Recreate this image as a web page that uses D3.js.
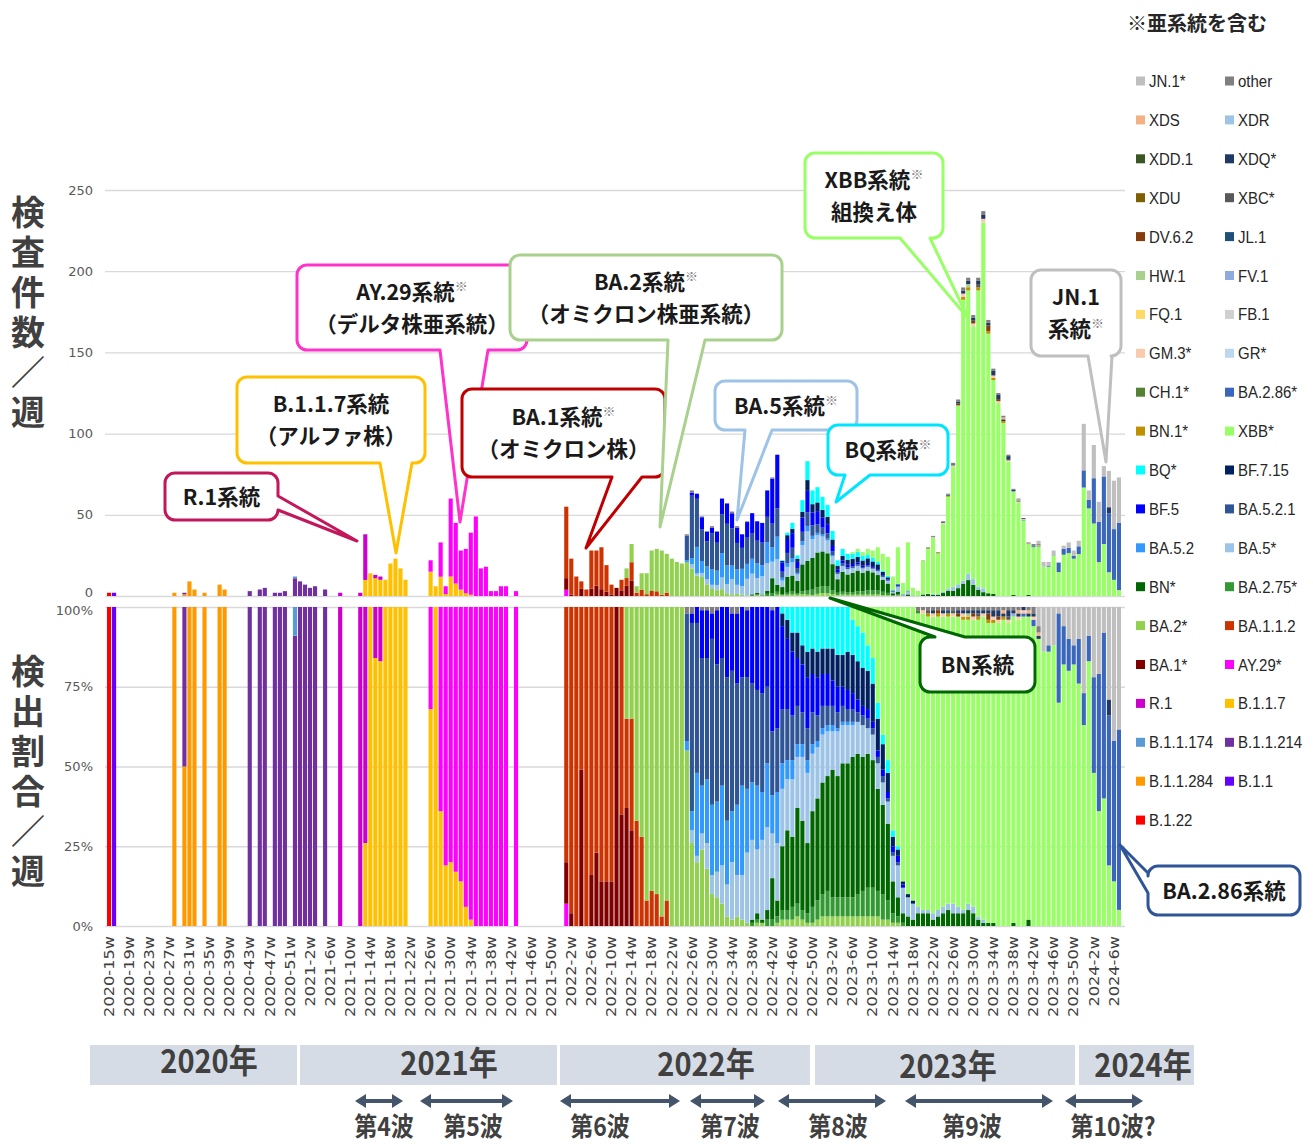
<!DOCTYPE html>
<html>
<head>
<meta charset="utf-8">
<script src="https://cdn.jsdelivr.net/npm/d3@7"></script>
<style>
  body { margin: 0; background: #fff; }
  svg text { font-family: "Noto Sans CJK JP", "Noto Sans", sans-serif; }
</style>
</head>
<body>
<svg id="chart" width="1313" height="1144"></svg>
<script>
// ---------- weeks (categories) ----------
const yearWeeks = [[2020, 15, 53], [2021, 1, 52], [2022, 1, 52], [2023, 1, 52], [2024, 1, 7]];
const tickLabels = [
  "2020-15","2020-19","2020-23","2020-27","2020-31","2020-35","2020-39","2020-43","2020-47","2020-51",
  "2021-2","2021-6","2021-10","2021-14","2021-18","2021-22","2021-26","2021-30","2021-34","2021-38","2021-42","2021-46","2021-50",
  "2022-2","2022-6","2022-10","2022-14","2022-18","2022-22","2022-26","2022-30","2022-34","2022-38","2022-42","2022-46","2022-50",
  "2023-2","2023-6","2023-10","2023-14","2023-18","2023-22","2023-26","2023-30","2023-34","2023-38","2023-42","2023-46","2023-50",
  "2024-2","2024-6"
];

// ---------- weekly number of tests (top panel) ----------
const totals2020 = [2,2,0,0,0,0,0,0,0,0,0,0,0,2,0,2,9,4,0,2,0,0,7,4,0,0,0,0,3,0,4,5,0,2,2,3,0,12,9];
const totals2021 = [7,5,6,0,4,0,0,2,0,0,0,2,38,14,13,12,10,20,23,17,10,0,0,0,0,22,6,33,6,60,45,28,29,39,49,17,18,3,3,6,6,0,3,0,0,0,0,0,0,0,0,0];
const totals2022 = [55,23,12,9,4,28,28,30,19,7,5,10,17,32,6,14,14,28,29,28,26,23,21,20,38,65,63,49,40,43,40,60,57,52,43,38,46,51,46,45,65,73,87,22,39,45,25,59,83,65,67,61];
const totals2023 = [56,40,22,29,26,27,29,27,29,28,30,26,24,12,30,8,33,5,3,22,30,37,27,46,63,82,121,190,196,173,196,237,170,140,125,111,87,66,60,48,33,32,34,21,21,28,21,31,33,28,34,106];
const totals2024 = [65,93,58,80,77,71,73];

// ---------- detection share per lineage (bottom panel), % by week, keyed by first week ----------
const pJN1    = {"2023-43": [6,14,12,12,2,6,10,12,10,27,9,22,21,8,29,42,38]};
const pOther  = {"2022-25": [2,2,0,1,1,2,1,0,0,2,2,0,1,0,0,0,0,1,0],
                 "2023-19": [1,1,1,1,1,1,1,1,1,1,1,1,1,1,1,1,1,1,1,1,1,0,1,2,2]};
const pXDS    = {"2023-36": [1,0,0,1,0,1,0,1]};
const pXDR    = {};
const pXDD1   = {};
const pXDQ    = {"2023-22": [1,0,1,0,0,1,1,1,1,1,1,1,2,2,1,2,1,1,1,1,1,1], "2024-5": [5]};
const pXDU    = {};
const pXBC    = {"2023-21": [1,0,0,0,0,1,0,0,0,0,1,0,0,0,0,0,1]};
const pDV62   = {"2023-23": [1,0,0,0,1,0,0,1,0,0,2,0,1]};
const pJL1    = {"2023-25": [1]};
const pHW1    = {"2023-29": [1]};
const pFV1    = {"2023-38": [1]};
const pFQ1    = {};
const pFB1    = {};
const pGM3    = {"2023-20": [1,0,1,0,1,0,1,0,1,0,1,0,1,0,1,1,0,1,0,1,1,0,1]};
const pGR     = {};
const pCH1    = {"2023-19": [1]};
const pBA286  = {"2023-40": [1,0,2,0,0,2,0,28,12,10,6,14,10,8,30,43,52,47,44,56]};
const pBN1    = {"2023-21": [1,0,1,0,1,0,0,1,1,0,1,0,1,1,0,1]};
const pXBB    = {"2023-6": [4,6,8,12,16,30,40,48,70,75,86,90,92,
                 92,93,92,93,92,91,90,90,91,91,89,90,93,95,94,94,95,96,95,96,96,97,95,94,90,86,86,88,70,82,80,82,76,63,83,48,36,40,19,14,5]};
const pBQ     = {"2022-44": [2,4,8,8,12,14,13,14,13,13,13, 15,15,14,11,11,11,8,8,5,3,4,2,1]};
const pBF715  = {"2022-44": [4,6,6,8,6,8,8,8,8,8,10, 10,10,12,12,12,12,12,12,10,8,6,3,2,1,1,1]};
const pBF5    = {"2022-26": [3,5,15,15,8,17,16,22,18,22,22,21,24,26,27,25,38,38, 26,22,20,15,15,16,12,12,10,10,8, 8,6,6,5,4,3,3,2,2,2,2,2,2,1]};
const pBA521  = {"2022-25": [40,59,47,40,38,52,43,40,45,44,38,34,35,31,30,31,24,20,20, 17,16,14,12,10,10,10,8,7,6,6, 5,5,4,4,3,3,3,2,2,2,1,1,1]};
const pBA52   = {"2022-25": [3,6,26,15,20,22,22,25,20,16,22,28,20,18,20,15,20,12,16, 8,6,6,4,4,4,3,2,2,2,2, 1,1,1,1]};
const pBA5    = {"2022-26": [4,2,5,8,6,8,12,10,18,13,14,22,25,20,25,26,14,18, 18,16,18,16,20,22,18,16,15,14,12,
                 14,12,12,10,10,10,8,8,8,7,7,8,10,8,6,5, 2,1,1,2,2,2,2,3,2,1,2,2,1,1]};
const pBN     = {"2022-38": [1,2,1,3,13,5, 20,25,22,30,28,22,30,32,35,36,40, 38,42,42,44,44,42,42,40,32,28,24,10,6,3,3,2,
                 4,4,4,2,3,4,5,4,4,4,5,4,2,1,1,1,0,0,0,1,0,0,2]};
const pBA275  = {"2022-38": [1,1,0,2,2,2, 3,3,4,4,3,3,5,6,7,8,6, 6,6,6,6,7,8,9,9,8,8,6,3,2,1]};
const pBA2    = {"2022-13": [35,35,67,72,92,89,90,97,92,100,100,100, 55,26,20,24,18,10,9,7,3,2,3,2,1,0,1,1,0,0,1,
                 2,2,2,3,2,1,1,2,3,3,3, 3,3,3,3,3,3,3,3,3,2,2,1,1,0,0,0]};
const pBA112  = {"2022-1": [80,96,100,51,100,84,77,86,86,86,0,65,28,35,33,28,8,11,10,3,8]};
const pBA1    = {"2022-1": [13,4,0,49,0,16,23,14,14,14,100,35,37,30]};
const pAY29   = {"2021-26": [32,0,64,81,80,83,86,94,98,100,100,100,100,100,100,100,0,100], "2022-1": [7]};
const pR1     = {"2021-8": [100,0,0,0,100,74,0,16,17]};
const pB117   = {"2021-13": [26,100,84,83,100,100,100,100,100], "2021-26": [68,100,36,19,20,17,14,6,2]};
const pB11174 = {"2020-52": [9]};
const pB11214 = {"2020-30": [50], "2020-43": [100,0,100,100,0,100,100,100,0,91,100,100,100,100,0,100]};
const pB11284 = {"2020-28": [100,0,50,100,100,0,100,0,0,100,100]};
const pB11    = {"2020-16": [100]};
const pB122   = {"2020-15": [100]};

// legend order (= top of stack first)
const lineages = ["JN.1*","other","XDS","XDR","XDD.1","XDQ*","XDU","XBC*","DV.6.2","JL.1","HW.1","FV.1","FQ.1","FB.1",
  "GM.3*","GR*","CH.1*","BA.2.86*","BN.1*","XBB*","BQ*","BF.7.15","BF.5","BA.5.2.1","BA.5.2","BA.5*","BN*","BA.2.75*",
  "BA.2*","BA.1.1.2","BA.1*","AY.29*","R.1","B.1.1.7","B.1.1.174","B.1.1.214","B.1.1.284","B.1.1","B.1.22"];
const lineageColors = ["#BFBFBF","#7F7F7F","#F4B183","#9DC3E6","#385723","#203864","#7F6000","#595959","#843C0C","#1F4E79",
  "#A9D18E","#8FAADC","#FFD966","#D0CECE","#F8CBAD","#BDD7EE","#548235","#3A66BC","#BF9000","#99FF66","#00FFFF","#002060",
  "#0000FF","#2F5597","#3399FF","#9DC3E6","#006600","#339933","#92D050","#CC3300","#800000","#FF00FF","#CC00CC","#FFC000",
  "#5B9BD5","#7030A0","#FF9900","#6600FF","#FF0000"];
const lineageShares = [pJN1,pOther,pXDS,pXDR,pXDD1,pXDQ,pXDU,pXBC,pDV62,pJL1,pHW1,pFV1,pFQ1,pFB1,
  pGM3,pGR,pCH1,pBA286,pBN1,pXBB,pBQ,pBF715,pBF5,pBA521,pBA52,pBA5,pBN,pBA275,
  pBA2,pBA112,pBA1,pAY29,pR1,pB117,pB11174,pB11214,pB11284,pB11,pB122];

// ---------- build table ----------
const weeks = [];
yearWeeks.forEach(([yr, a, b]) => { for (let w = a; w <= b; w++) weeks.push(yr + "-" + w); });
const totals = [].concat(totals2020, totals2021, totals2022, totals2023, totals2024);
const widx = new Map(weeks.map((w, i) => [w, i]));

function expand(obj) {
  const arr = new Array(weeks.length).fill(0);
  Object.keys(obj).forEach(k => {
    const s = widx.get(k);
    obj[k].forEach((v, j) => { if (s + j < arr.length) arr[s + j] = v; });
  });
  return arr;
}
const shareCols = lineageShares.map(expand);
const stackKeys = lineages.slice().reverse();   // bottom of stack first

const rowsPct = [], rowsCnt = [];
weeks.forEach((w, i) => {
  const sum = d3.sum(shareCols, c => c[i]);
  const rp = { week: w }, rc = { week: w };
  lineages.forEach((name, k) => {
    const f = (sum > 0 && totals[i] > 0) ? shareCols[k][i] / sum : 0;
    rp[name] = f;
    rc[name] = f * totals[i];
  });
  rowsPct.push(rp); rowsCnt.push(rc);
});

const color = d3.scaleOrdinal().domain(lineages).range(lineageColors);

// ---------- scales ----------
const svg = d3.select("#chart");
const x = d3.scaleBand().domain(weeks).range([107, 1121]).paddingInner(0.18);
const yTop = d3.scaleLinear().domain([0, 250]).range([596, 190]);
const yBot = d3.scaleLinear().domain([0, 1]).range([926, 607]);

// ---------- axes / grid ----------
function styleAxis(g) {
  g.select(".domain").remove();
  g.selectAll(".tick line").attr("stroke", "#d9d9d9").attr("stroke-width", 1.3);
  g.selectAll(".tick text").attr("fill", "#595959").attr("font-size", 13)
    .style("font-family", "'DejaVu Sans', sans-serif");
}
const topAxis = svg.append("g").attr("transform", "translate(105,0)")
  .call(d3.axisLeft(yTop).tickValues([0, 50, 100, 150, 200, 250]).tickSize(-1020).tickPadding(12))
  .call(styleAxis);
topAxis.selectAll(".tick text").filter(d => d === 0).attr("dy", "0.05em");
const botAxis = svg.append("g").attr("transform", "translate(105,0)")
  .call(d3.axisLeft(yBot).tickValues([0, 0.25, 0.5, 0.75, 1]).tickFormat(d3.format(".0%")).tickSize(-1020).tickPadding(12))
  .call(styleAxis);
botAxis.selectAll(".tick text").filter(d => d === 1).attr("dy", "0.55em");

const xAxis = svg.append("g").attr("transform", "translate(0,936)")
  .call(d3.axisBottom(x).tickValues(tickLabels).tickFormat(d => d + "w").tickSize(0));
xAxis.select(".domain").remove();
xAxis.selectAll(".tick text")
  .attr("transform", "rotate(-90) scale(1.2,1)")
  .attr("text-anchor", "end").attr("x", 0).attr("y", 0).attr("dy", "0.35em")
  .attr("fill", "#404040").attr("font-size", 13.5)
  .style("font-family", "'DejaVu Sans', sans-serif");

// ---------- bars ----------
function drawStack(rows, y) {
  const layers = d3.stack().keys(stackKeys)(rows);
  const g = svg.append("g");
  g.selectAll("g").data(layers).enter().append("g")
    .attr("fill", d => color(d.key))
    .selectAll("rect").data(d => d.filter(s => s[1] - s[0] > 1e-9)).enter().append("rect")
    .attr("x", d => x(d.data.week))
    .attr("width", x.bandwidth())
    .attr("y", d => y(d[1]))
    .attr("height", d => y(d[0]) - y(d[1]));
}
drawStack(rowsCnt, yTop);
drawStack(rowsPct, yBot);

// ---------- axis titles (vertical writing) ----------
function verticalTitle(str, cx, yTopEdge) {
  svg.append("text").attr("x", cx).attr("y", yTopEdge)
    .style("writing-mode", "vertical-rl").style("text-orientation", "upright")
    .attr("font-size", 34).attr("letter-spacing", 6)
    .attr("font-weight", 700).attr("fill", "#404040").text(str);
}
verticalTitle("検査件数／週", 28, 195);
verticalTitle("検出割合／週", 28, 654);

// ---------- legend ----------
svg.append("text").attr("x", 1197).attr("y", 31).attr("text-anchor", "middle")
  .attr("font-size", 20).attr("font-weight", 700).attr("fill", "#262626").text("※亜系統を含む");
const leg = svg.append("g").selectAll("g").data(lineages).enter().append("g")
  .attr("transform", (d, i) => `translate(${i % 2 ? 1225 : 1136},${81 + Math.floor(i / 2) * 38.9})`);
leg.append("rect").attr("x", 0).attr("y", -4.5).attr("width", 9).attr("height", 9).attr("fill", d => color(d));
leg.append("text").attr("x", 13).attr("y", 0).attr("dy", "0.36em")
  .attr("font-size", 15).attr("fill", "#262626")
  .attr("transform", "scale(1,1.12)")
  .style("font-family", "'Liberation Sans', sans-serif").text(d => d);

// ---------- callouts ----------
function bubblePath(c) {
  const { x: bx, y: by, w, h } = c, r = 10, [tx, ty] = c.tip;
  let p = `M${bx + r},${by}`;
  if (c.side === "top") p += `L${c.a},${by}L${tx},${ty}L${c.b},${by}`;
  p += `L${bx + w - r},${by}A${r},${r} 0 0 1 ${bx + w},${by + r}`;
  if (c.side === "right") p += `L${bx + w},${c.a}L${tx},${ty}L${bx + w},${c.b}`;
  p += `L${bx + w},${by + h - r}A${r},${r} 0 0 1 ${bx + w - r},${by + h}`;
  if (c.side === "bottom") p += `L${c.b},${by + h}L${tx},${ty}L${c.a},${by + h}`;
  p += `L${bx + r},${by + h}A${r},${r} 0 0 1 ${bx},${by + h - r}`;
  if (c.side === "left") p += `L${bx},${c.b}L${tx},${ty}L${bx},${c.a}`;
  p += `L${bx},${by + r}A${r},${r} 0 0 1 ${bx + r},${by}Z`;
  return p;
}
const callouts = [
  { lines: ["R.1系統"], x: 165, y: 473, w: 113, h: 47, stroke: "#C2185B", side: "right", a: 496, b: 510, tip: [357, 541] },
  { lines: ["B.1.1.7系統", "（アルファ株）"], x: 237, y: 377, w: 188, h: 86, stroke: "#FFC000", side: "bottom", a: 380, b: 412, tip: [396, 553] },
  { lines: ["AY.29系統※", "（デルタ株亜系統）"], x: 297, y: 265, w: 230, h: 85, stroke: "#FF33CC", side: "bottom", a: 440, b: 488, tip: [460, 522] },
  { lines: ["BA.1系統※", "（オミクロン株）"], x: 462, y: 389, w: 203, h: 88, stroke: "#C00000", side: "bottom", a: 612, b: 642, tip: [586, 548] },
  { lines: ["BA.2系統※", "（オミクロン株亜系統）"], x: 510, y: 255, w: 272, h: 85, stroke: "#A9D18E", side: "bottom", a: 668, b: 705, tip: [660, 527] },
  { lines: ["BA.5系統※"], x: 715, y: 381, w: 142, h: 49, stroke: "#9DC3E6", side: "bottom", a: 745, b: 772, tip: [737, 520] },
  { lines: ["BQ系統※"], x: 828, y: 425, w: 120, h: 50, stroke: "#00E5FF", side: "bottom", a: 845, b: 870, tip: [836, 502] },
  { lines: ["XBB系統※", "組換え体"], x: 805, y: 153, w: 138, h: 85, stroke: "#99FF66", side: "bottom", a: 900, b: 930, tip: [968, 318] },
  { lines: ["JN.1", "系統※"], x: 1031, y: 270, w: 90, h: 86, stroke: "#BFBFBF", side: "bottom", a: 1088, b: 1112, tip: [1106, 462] },
  { lines: ["BN系統"], x: 920, y: 637, w: 115, h: 55, stroke: "#006600", side: "top", a: 935, b: 965, tip: [830, 598] },
  { lines: ["BA.2.86系統"], x: 1148, y: 866, w: 152, h: 49, stroke: "#2F5597", side: "left", a: 873, b: 893, tip: [1120, 845] }
];
const cg = svg.append("g");
callouts.forEach(c => {
  cg.append("path").attr("d", bubblePath(c)).attr("fill", "#fff")
    .attr("stroke", c.stroke).attr("stroke-width", 3).attr("stroke-linejoin", "round");
  const cx = c.x + c.w / 2;
  const n = c.lines.length;
  const cy0 = c.y + c.h / 2 - (n - 1) * 16;
  c.lines.forEach((ln, i) => {
    const t = cg.append("text").attr("x", cx).attr("y", cy0 + i * 32 + 8)
      .attr("text-anchor", "middle").attr("font-size", 21.5).attr("font-weight", 700).attr("fill", "#1a1a1a");
    const parts = ln.split("※");
    t.append("tspan").text(parts[0]);
    if (parts.length > 1) {
      t.append("tspan").attr("font-size", 13).attr("dy", -9).attr("fill", "#7f7f7f").attr("font-weight", 400).text("※");
    }
  });
});

// ---------- years and waves ----------
const years = [
  { t: "2020年", x0: 90, x1: 297, tx: 209, cy: 1063 }, { t: "2021年", x0: 300, x1: 557, tx: 449, cy: 1065 },
  { t: "2022年", x0: 560, x1: 810, tx: 706, cy: 1066 }, { t: "2023年", x0: 815, x1: 1075, tx: 948, cy: 1068 },
  { t: "2024年", x0: 1079, x1: 1194, tx: 1143, cy: 1067 }
];
const yg = svg.append("g");
years.forEach(d => {
  yg.append("rect").attr("x", d.x0).attr("y", 1045).attr("width", d.x1 - d.x0).attr("height", 40).attr("fill", "#D6DCE5");
  yg.append("g").attr("transform", `translate(${d.tx},${d.cy + 10}) scale(1,1.12)`)
    .append("text").attr("text-anchor", "middle").attr("font-size", 29).attr("font-weight", 700)
    .attr("fill", "#404040").text(d.t);
});

const waves = [
  { t: "第4波", x0: 355, x1: 403, cx: 384 }, { t: "第5波", x0: 420, x1: 513, cx: 473 },
  { t: "第6波", x0: 560, x1: 680, cx: 600 }, { t: "第7波", x0: 690, x1: 765, cx: 730 },
  { t: "第8波", x0: 778, x1: 886, cx: 838 }, { t: "第9波", x0: 905, x1: 1053, cx: 972 },
  { t: "第10波?", x0: 1065, x1: 1143, cx: 1113 }
];
const wg = svg.append("g");
const ac = "#44546A";
waves.forEach(d => {
  const yA = 1101, hl = 11, hw = 7;
  wg.append("line").attr("x1", d.x0 + hl).attr("x2", d.x1 - hl).attr("y1", yA).attr("y2", yA)
    .attr("stroke", ac).attr("stroke-width", 4);
  wg.append("path").attr("d", `M${d.x0},${yA}L${d.x0 + hl},${yA - hw}L${d.x0 + hl},${yA + hw}Z`).attr("fill", ac);
  wg.append("path").attr("d", `M${d.x1},${yA}L${d.x1 - hl},${yA - hw}L${d.x1 - hl},${yA + hw}Z`).attr("fill", ac);
  wg.append("g").attr("transform", `translate(${d.cx},${1136}) scale(1,1.12)`)
    .append("text").attr("text-anchor", "middle").attr("font-size", 23).attr("font-weight", 700)
    .attr("fill", "#404040").text(d.t);
});
</script>
</body>
</html>
